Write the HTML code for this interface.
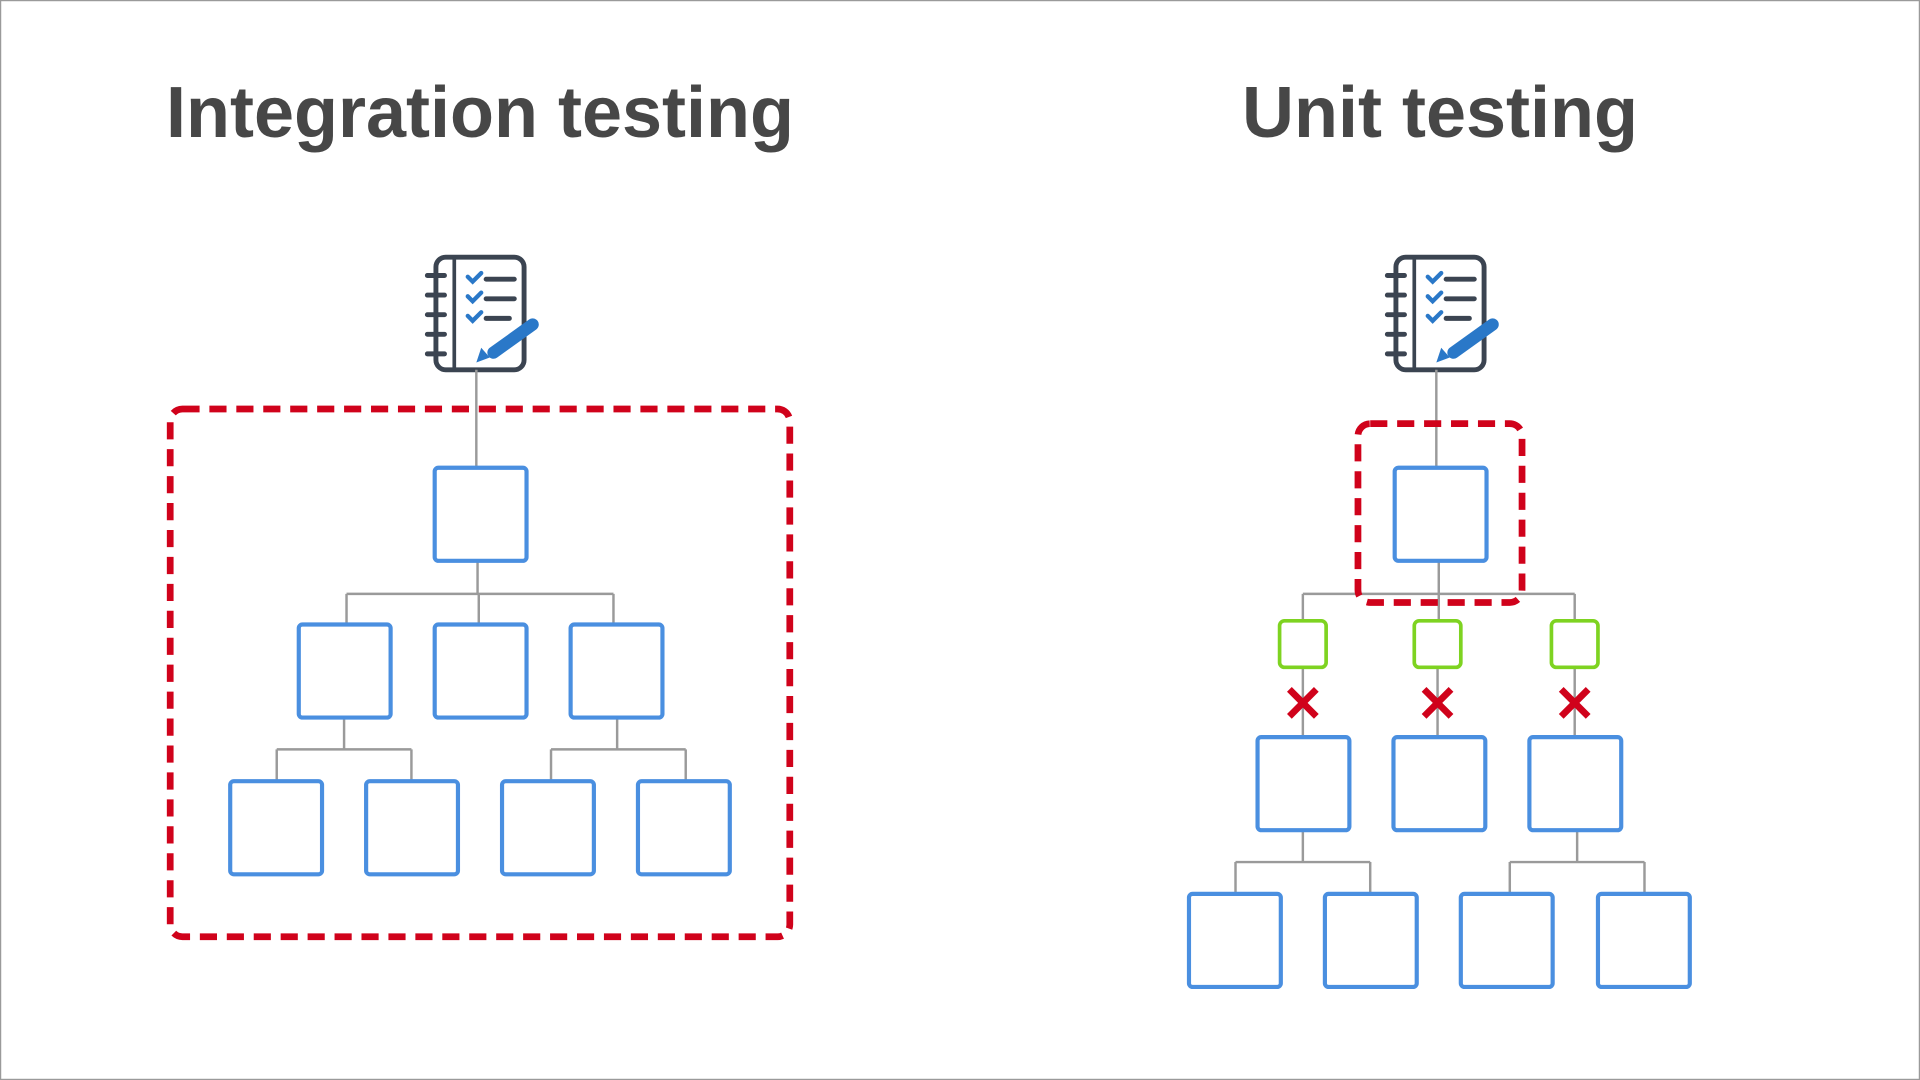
<!DOCTYPE html>
<html><head><style>html,body{margin:0;padding:0;background:#fff}svg{display:block}</style></head>
<body>
<svg width="1920" height="1080" viewBox="0 0 1568 882" xmlns="http://www.w3.org/2000/svg">
<defs>
<g id="nb">
  <rect x="3" y="2" width="72" height="92" rx="8" fill="none" stroke="#3b4451" stroke-width="4"/>
  <line x1="18" y1="2" x2="18" y2="94" stroke="#3b4451" stroke-width="3"/>
  <g stroke="#3b4451" stroke-width="4" stroke-linecap="round">
    <line x1="-4" y1="17" x2="10" y2="17"/><line x1="-4" y1="33" x2="10" y2="33"/><line x1="-4" y1="49" x2="10" y2="49"/><line x1="-4" y1="65" x2="10" y2="65"/><line x1="-4" y1="81" x2="10" y2="81"/>
    <line x1="44" y1="20" x2="67" y2="20"/><line x1="44" y1="36" x2="67" y2="36"/><line x1="44" y1="52" x2="63" y2="52"/>
  </g>
  <g stroke="#2a78c8" stroke-width="3.5" fill="none" stroke-linecap="round">
    <polyline points="29,18 33,22 40,15"/><polyline points="29,34 33,38 40,31"/><polyline points="29,50 33,54 40,47"/>
  </g>
  <line x1="50" y1="80" x2="82" y2="57" stroke="#2a78c8" stroke-width="10" stroke-linecap="round"/>
  <polygon points="36,88 40,76 47,84" fill="#2a78c8"/>
</g>
</defs>
<rect x="0.5" y="0.5" width="1567" height="881" fill="#fff" stroke="#9a9a9a"/>
<g font-family="Liberation Sans, sans-serif" font-weight="bold" font-size="58.8" fill="#474747" text-anchor="middle">
<text x="392" y="112">Integration testing</text>
<text x="1176" y="112">Unit testing</text>
</g>
<use href="#nb" x="353" y="208"/>
<use href="#nb" x="1137" y="208"/>
<g stroke="#9a9a9a" stroke-width="2" fill="none">
<path d="M389 302V382 M390 458V485 M283 485H501 M283 485V510 M391 485V510 M501 485V510"/>
<path d="M281 586V612 M226 612H336 M226 612V638 M336 612V638 M504 586V612 M450 612H560 M450 612V638 M560 612V638"/>
<path d="M1173 302V382 M1175 458V507 M1064 485H1286 M1064 485V507 M1286 485V507"/>
<path d="M1064 545V602 M1174 545V602 M1286 545V602"/>
<path d="M1064 678V704 M1009 704H1119 M1009 704V730 M1119 704V730 M1288 678V704 M1233 704H1343 M1233 704V730 M1343 704V730"/>
</g>
<g fill="#fff" stroke="#4a8fe0" stroke-width="3.4">
<rect x="355" y="382" width="75" height="76" rx="3"/>
<rect x="244" y="510" width="75" height="76" rx="3"/><rect x="355" y="510" width="75" height="76" rx="3"/><rect x="466" y="510" width="75" height="76" rx="3"/>
<rect x="188" y="638" width="75" height="76" rx="3"/><rect x="299" y="638" width="75" height="76" rx="3"/><rect x="410" y="638" width="75" height="76" rx="3"/><rect x="521" y="638" width="75" height="76" rx="3"/>
<rect x="1139" y="382" width="75" height="76" rx="3"/>
<rect x="1027" y="602" width="75" height="76" rx="3"/><rect x="1138" y="602" width="75" height="76" rx="3"/><rect x="1249" y="602" width="75" height="76" rx="3"/>
<rect x="971" y="730" width="75" height="76" rx="3"/><rect x="1082" y="730" width="75" height="76" rx="3"/><rect x="1193" y="730" width="75" height="76" rx="3"/><rect x="1305" y="730" width="75" height="76" rx="3"/>
</g>
<g fill="#fff" stroke="#7ed321" stroke-width="3">
<rect x="1045" y="507" width="38" height="38" rx="4"/><rect x="1155" y="507" width="38" height="38" rx="4"/><rect x="1267" y="507" width="38" height="38" rx="4"/>
</g>
<g stroke="#d0021b" stroke-width="5.5">
<path d="M1053 563L1075 585M1075 563L1053 585"/>
<path d="M1163 563L1185 585M1185 563L1163 585"/>
<path d="M1275 563L1297 585M1297 563L1275 585"/>
</g>
<g fill="none" stroke="#d0021b" stroke-width="5.5" stroke-dasharray="14 8">
<rect x="139" y="334" width="506" height="431" rx="10"/>
<rect x="1109" y="346" width="134" height="146" rx="10"/>
</g>
</svg>
</body></html>
